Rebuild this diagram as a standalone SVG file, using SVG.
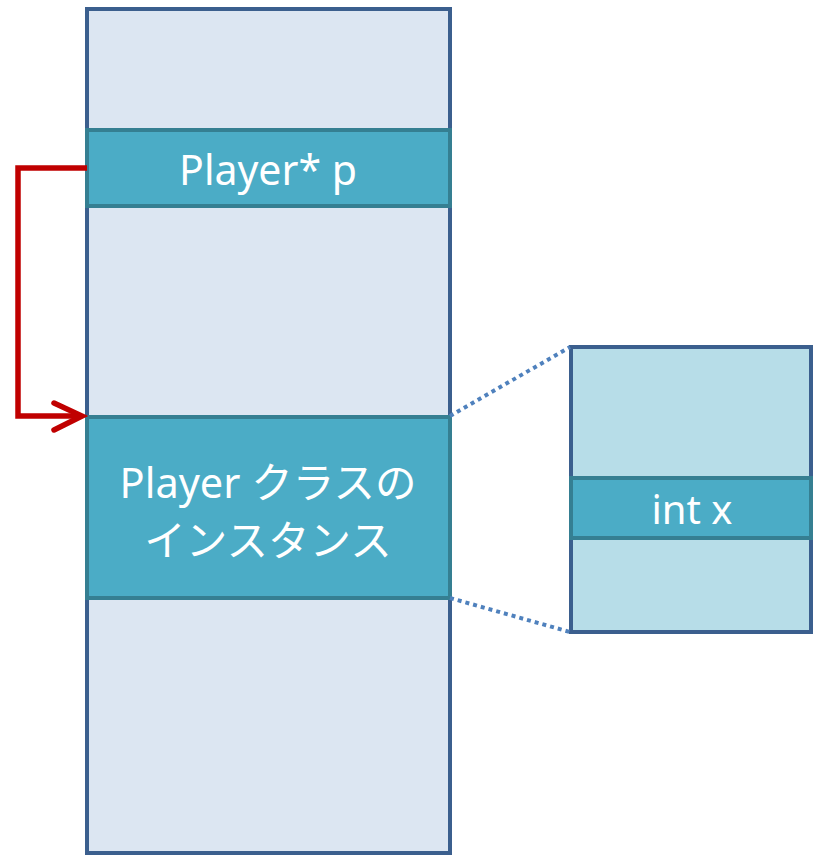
<svg xmlns="http://www.w3.org/2000/svg" width="814" height="855" viewBox="0 0 814 855">
  <style>
    .mem { fill: #dce6f2; stroke: #3b5f8e; stroke-width: 4; }
    .detail { fill: #b7dde8; stroke: #3b5f8e; stroke-width: 4; }
    .slot { fill: #4bacc6; stroke: #357f92; stroke-width: 4; }
    .lbl { fill: #ffffff; font-family: "Noto Sans", "Noto Sans CJK JP", sans-serif; text-anchor: middle; }
    .zoom { fill: none; stroke: #4f81bd; stroke-width: 4; stroke-dasharray: 4 4; }
    .ptr { fill: none; stroke: #c00000; stroke-width: 5.5; stroke-linejoin: miter; }
  </style>

  <g id="memory">
    <rect class="mem" x="87" y="9" width="363" height="844"/>
  </g>

  <g id="pointer">
    <rect class="slot" x="87" y="130" width="363" height="76"/>
    <text class="lbl" x="268" y="185" font-size="41">Player* p</text>
  </g>

  <g id="instance">
    <rect class="slot" x="87" y="417" width="363" height="181"/>
    <text class="lbl" x="268" y="498" font-size="41.5">Player クラスの</text>
    <text class="lbl" x="268" y="556" font-size="41.5">インスタンス</text>
  </g>

  <g id="members">
    <rect class="detail" x="571" y="347" width="240" height="285"/>
    <rect class="slot" x="571" y="478" width="240" height="60"/>
    <text class="lbl" x="692" y="524" font-size="40">int x</text>
  </g>

  <g id="connectors">
    <line class="zoom" x1="450" y1="416" x2="570" y2="347"/>
    <line class="zoom" x1="450" y1="598" x2="570" y2="632"/>
    <polyline class="ptr" points="87,168 18,168 18,416 82,416"/>
    <polyline class="ptr" points="54,403 82,416 54,430" stroke-linecap="round"/>
  </g>
</svg>
